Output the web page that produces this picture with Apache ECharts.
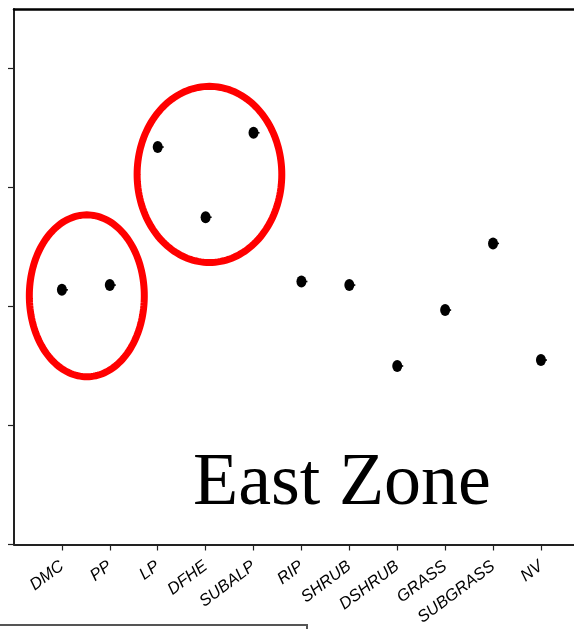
<!DOCTYPE html>
<html>
<head>
<meta charset="utf-8">
<script src="https://cdn.jsdelivr.net/npm/echarts@6/dist/echarts.min.js"></script>
<style>
  html, body { margin: 0; padding: 0; background: #fff; }
  #chart { width: 574px; height: 629px; }
</style>
</head>
<body>
<div id="chart"></div>
<script>
// Vegetation classes along the x axis (positions 1..11)
const categories = ['DMC', 'PP', 'LP', 'DFHE', 'SUBALP', 'RIP', 'SHRUB', 'DSHRUB', 'GRASS', 'SUBGRASS', 'NV'];
// Mean value per class
const means = [2.14, 2.18, 3.34, 2.75, 3.46, 2.21, 2.18, 1.50, 1.97, 2.53, 1.55];
// Highlight ellipses: centre (x, y) and radii (x, y) in axis units
const ellipseCx = [1.52, 4.08];
const ellipseCy = [2.09, 3.11];
const ellipseRx = [1.20, 1.51];
const ellipseRy = [0.68, 0.74];
// Y axis tick values (unlabelled)
const yTicks = [0, 1, 2, 3, 4];

const pointData = means.map((v, i) => [i + 1, v]);
const ellipseData = ellipseCx.map((c, i) => [c, ellipseCy[i], ellipseRx[i], ellipseRy[i]]);

const chart = echarts.init(document.getElementById('chart'), null, { renderer: 'canvas' });

const axisColor = '#222';

chart.setOption({
  animation: false,
  backgroundColor: '#fff',
  grid: { left: 14, top: 9, right: 0, bottom: 84.5 },
  xAxis: [{
    type: 'value',
    min: 0,
    max: 11.69,
    interval: 1,
    splitLine: { show: false },
    axisLine: { show: true, onZero: false, lineStyle: { color: axisColor, width: 2 } },
    axisTick: { show: true, length: 6, lineStyle: { color: axisColor, width: 1.2 },
      customValues: categories.map((c, i) => i + 1) },
    axisLabel: {
      show: true,
      rotate: 37,
      margin: 20,
      color: '#000',
      fontFamily: 'Liberation Sans, Arial, sans-serif',
      fontStyle: 'italic',
      fontSize: 16.5,
      customValues: categories.map((c, i) => i + 1),
      formatter: v => categories[Math.round(v) - 1] || ''
    }
  }, {
    type: 'value',
    position: 'top',
    min: 0,
    max: 11.69,
    splitLine: { show: false },
    axisLine: { show: true, onZero: false, lineStyle: { color: '#000', width: 2.5 } },
    axisTick: { show: false },
    axisLabel: { show: false }
  }],
  yAxis: {
    type: 'value',
    min: 0,
    max: 4.5,
    interval: 1,
    splitLine: { show: false },
    axisLine: { show: true, onZero: false, lineStyle: { color: axisColor, width: 2 } },
    axisTick: { show: true, length: 6, lineStyle: { color: axisColor, width: 1.2 },
      customValues: yTicks },
    axisLabel: { show: false }
  },
  series: [{
    // red highlight ellipses
    type: 'custom',
    coordinateSystem: 'cartesian2d',
    xAxisIndex: 0,
    clip: false,
    silent: true,
    data: ellipseData,
    renderItem: function (params, api) {
      const c = api.coord([api.value(0), api.value(1)]);
      const s = api.size([api.value(2), api.value(3)]);
      const pts = [];
      const n = 160;
      for (let k = 0; k < n; k++) {
        const t = (k / n) * Math.PI * 2;
        pts.push([c[0] + s[0] * Math.cos(t), c[1] + s[1] * Math.sin(t)]);
      }
      return {
        type: 'polygon',
        shape: { points: pts },
        style: { fill: 'none', stroke: '#ff0000', lineWidth: 7 }
      };
    }
  }, {
    // short error stub to the right of each mean
    type: 'custom',
    coordinateSystem: 'cartesian2d',
    xAxisIndex: 0,
    silent: true,
    data: pointData,
    renderItem: function (params, api) {
      const p = api.coord([api.value(0), api.value(1)]);
      return {
        type: 'line',
        shape: { x1: p[0], y1: p[1], x2: p[0] + 6, y2: p[1] },
        style: { stroke: '#000', lineWidth: 1.6 }
      };
    }
  }, {
    type: 'scatter',
    xAxisIndex: 0,
    symbol: 'circle',
    symbolSize: [10, 12],
    itemStyle: { color: '#000', opacity: 1 },
    data: pointData,
    z: 5
  }],
  graphic: [{
    type: 'text',
    left: 193,
    top: 448,
    style: {
      text: 'East Zone',
      font: '74px "Liberation Serif", "Times New Roman", serif',
      fill: '#000'
    }
  }, {
    type: 'rect',
    shape: { x: -2, y: 625, width: 309, height: 30 },
    style: { fill: 'none', stroke: '#555', lineWidth: 2 }
  }]
});
</script>
</body>
</html>
